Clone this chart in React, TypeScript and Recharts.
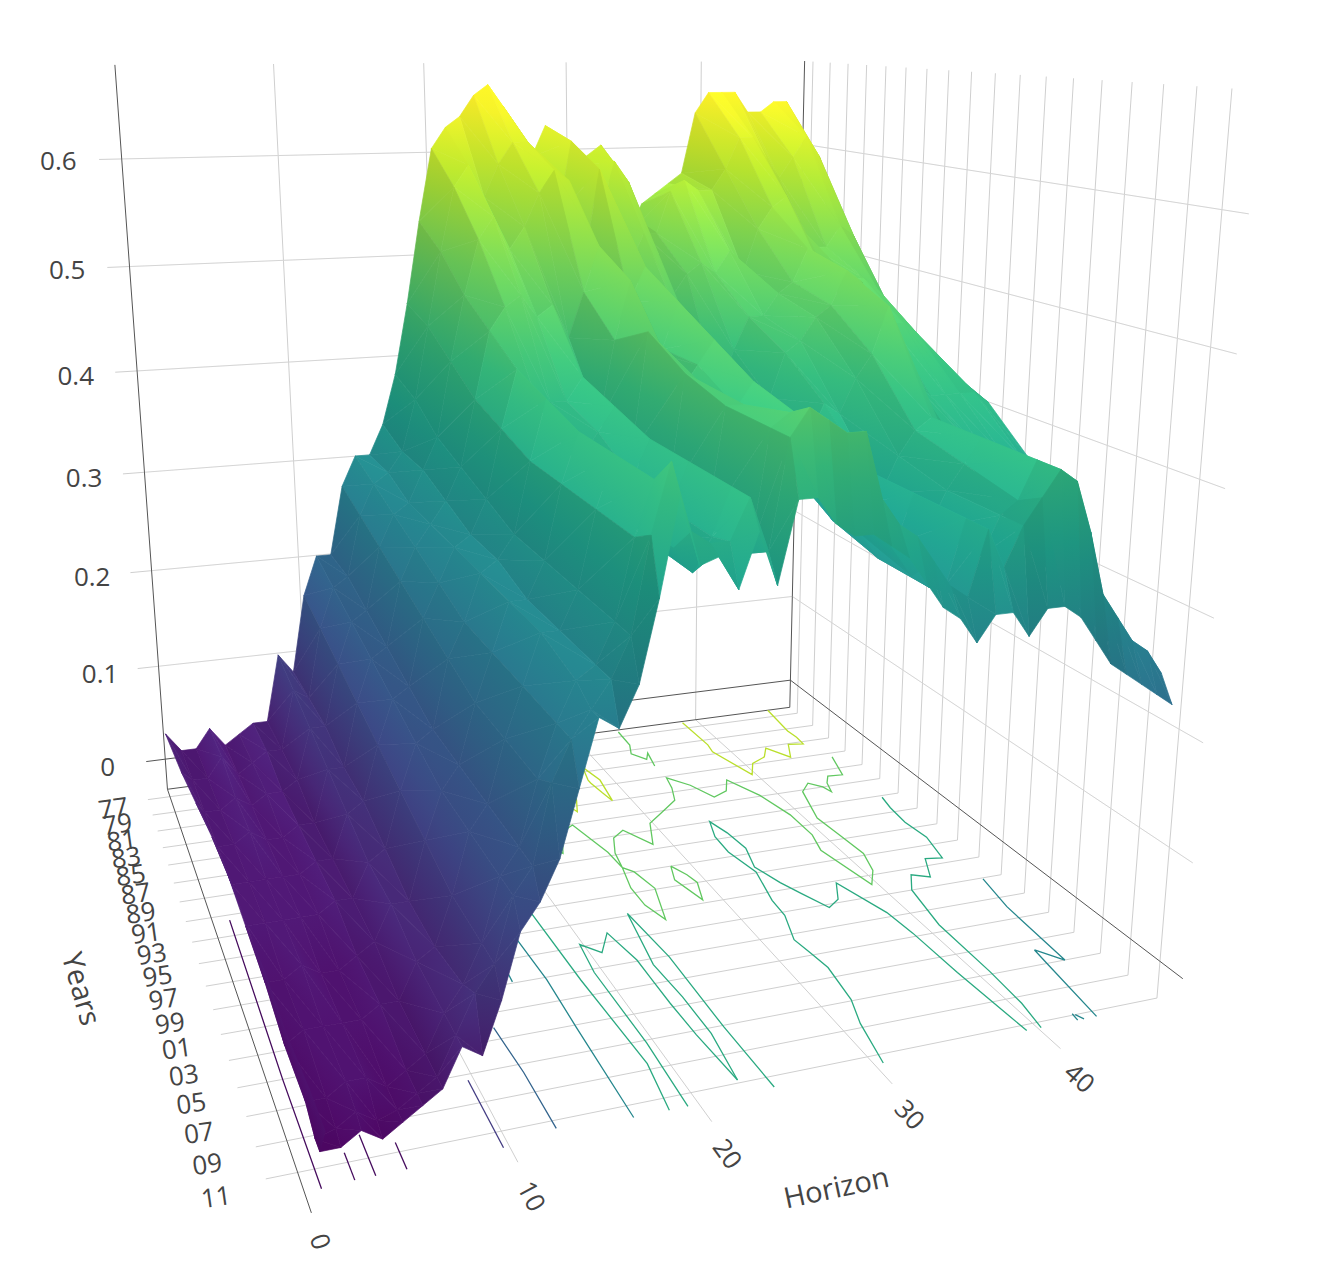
import React from 'react';
import { ComposedChart, Line, Scatter, XAxis, YAxis } from 'recharts';

const W = 1318, H = 1273;
const zMin = -0.028, zTop = 0.69, cMin = -0.02, cMax = 0.67;

// horizons run 0..47, year slices are counted in years since 1977
const horizons = Array.from({ length: 48 }, (_, i) => i);
const sliceYears = [0, 4, 8, 12, 16, 20, 24, 28, 32, 33.6, 34.4];
// the left edge of the surface starts a little later in the recent slices
const firstHorizon = [0, .3, .5, .7, .8, .9, 1, 1.1, 1.2, 1.3, 1.3];
const z1977 = [.04,.02,.02,.04,.02,.03,.04,.04,.11,.09,.17,.21,.21,.28,.31,.31,.34,.39,.46,.54,.61,.63,.64,.66,.67,.65,.62,.60,.63,.61,.59,.60,.61,.55,.52,.55,.56,.57,.58,.64,.66,.66,.66,.64,.64,.65,.65,.62];
const z1981 = [.03,.02,.02,.04,.02,.03,.04,.04,.10,.09,.16,.20,.21,.27,.30,.31,.33,.38,.45,.52,.58,.60,.57,.60,.62,.62,.60,.55,.62,.60,.55,.60,.58,.53,.53,.57,.58,.57,.57,.59,.62,.62,.60,.58,.60,.62,.60,.54];
const z1985 = [.03,.02,.02,.03,.02,.03,.03,.04,.09,.09,.15,.19,.20,.26,.29,.30,.33,.36,.43,.49,.54,.56,.53,.55,.58,.60,.59,.52,.60,.57,.51,.54,.52,.48,.50,.51,.50,.52,.50,.54,.56,.57,.54,.52,.52,.54,.53,.48];
const z1989 = [.03,.02,.02,.03,.02,.02,.03,.03,.08,.08,.14,.18,.19,.25,.28,.30,.32,.35,.41,.47,.49,.50,.48,.49,.46,.50,.54,.48,.49,.52,.47,.48,.46,.42,.40,.44,.47,.47,.49,.50,.53,.51,.49,.50,.50,.49,.47,.44];
const z1993 = [.03,.02,.02,.02,.02,.02,.03,.03,.07,.08,.13,.17,.18,.24,.27,.30,.31,.34,.40,.45,.43,.42,.42,.44,.40,.47,.52,.46,.46,.50,.45,.44,.42,.40,.38,.41,.45,.46,.48,.49,.52,.51,.48,.47,.47,.46,.44,.41];
const z1997 = [.02,.02,.02,.02,.02,.02,.03,.03,.06,.07,.12,.16,.17,.23,.26,.30,.31,.33,.39,.44,.40,.39,.41,.43,.39,.49,.47,.44,.46,.48,.43,.42,.40,.38,.37,.39,.42,.41,.44,.46,.50,.45,.43,.42,.42,.42,.42,.41];
const z2001 = [.02,.01,.01,.02,.01,.01,.02,.03,.06,.06,.11,.15,.17,.22,.26,.30,.30,.33,.39,.43,.39,.37,.39,.42,.37,.47,.46,.44,.44,.46,.42,.40,.38,.36,.34,.35,.38,.36,.39,.41,.42,.40,.39,.39,.38,.38,.38,.37];
const z2005 = [.01,.00,.01,.01,.01,.01,.02,.02,.05,.06,.10,.15,.17,.22,.26,.30,.30,.33,.39,.43,.38,.36,.385,.42,.37,.46,.46,.44,.44,.45,.41,.40,.37,.35,.33,.34,.38,.35,.38,.40,.42,.39,.36,.33,.32,.30,.30,.29];
const z2009 = [.01,.00,.00,.01,.01,.00,.01,.02,.05,.07,.10,.15,.17,.22,.26,.29,.30,.33,.39,.43,.38,.36,.385,.42,.37,.46,.47,.45,.45,.45,.40,.38,.36,.34,.33,.33,.38,.35,.38,.39,.42,.39,.34,.31,.29,.27,.27,.26];
const z2011 = [.005,-.01,-.005,.005,-.005,.00,.01,.02,.05,.08,.10,.15,.17,.23,.26,.28,.30,.33,.40,.45,.40,.39,.39,.42,.38,.46,.48,.47,.46,.46,.41,.39,.38,.36,.34,.33,.38,.35,.38,.40,.42,.41,.37,.32,.30,.28,.27,.25];
const z2012 = [.005,-.01,-.01,.00,-.01,.00,.01,.02,.05,.04,.08,.13,.15,.18,.23,.28,.27,.30,.36,.43,.38,.385,.36,.40,.36,.42,.42,.40,.39,.39,.38,.37,.35,.33,.32,.30,.32,.32,.30,.32,.32,.31,.29,.27,.26,.25,.24,.23];
const surface = [z1977, z1981, z1985, z1989, z1993, z1997, z2001, z2005, z2009, z2011, z2012];

// floor contours, [horizon, years since 1977]
const level60 = [
  [[38.8,-.8],[38.9,2.7],[38.7,3.7],[39.7,7.3],[40.6,5.9],[41.9,5.3],[42.7,4.2],[43.7,5.8],[44.6,4.1],[45.7,4.3],[45.8,3.3],[45.7,2.3],[46.1,-1]],
  [[28.7,3.4],[28.3,5.1],[28.3,5.5],[28.5,6.9],[28.7,8],[29.1,5.3],[28.7,3.4]],
  [[25.5,7.7],[25.8,8.7],[26.4,7.3],[26.6,6.3]],
];
const level50 = [
  [[33.5,-.7],[33.4,1.3],[32.9,2.5],[33.6,3.5],[34.1,2.7],[33.7,4.5]],
  [[22.5,12.5],[22.8,13],[23.8,10.7],[24.8,10.1],[25.6,13.6],[25.7,15.4],[26.2,16],[26.6,17.9],[25.7,20.9],[25.2,19.3],[25.2,17.5],[25.7,15.4],[26,13.8],[26.7,12.2],[27.7,11.5],[28.8,13.5],[29.8,11.2],[30.9,10.4],[32.8,9],[33.4,7.5],[33.7,6.2],[34.8,7.5],[35.6,9.3],[36.8,8.8],[37.6,7.5],[38.7,9.9],[39.3,12.6],[39.3,15.1],[38.8,16.8],[39.6,20.9],[40.6,19.6],[41.2,17.8],[41,15.6],[40.8,13.4],[41.8,10.2],[42.8,9.3],[43.5,10],[43.7,10.7],[44.1,9.6],[44.7,8.8],[45.8,8.9],[46.6,6.5]],
  [[28.7,16],[28.2,17.4],[28.8,19.7],[29.4,18],[29.2,17.1],[28.7,16]],
];
const level40 = [
  [[30.5,34.6],[31.2,31.7],[31.9,29.9],[32.3,27.2],[32.1,25.8],[31.9,24.5],[32.7,22.3],[32.8,20.8],[33.5,17.9],[33,15.5],[33.1,13.7],[33.7,12],[34.1,13.5],[34.3,15.4],[33.7,17.4],[34.3,19.3],[34.9,20.6],[35.7,22.3],[36.7,21.7],[37.6,20.2],[38.7,23.6],[38.9,25.7],[39,29.4],[39.3,34.4]],
  [[46.6,12.2],[46.3,13.5],[46.1,15.3],[46.3,17.2],[45.7,19.5],[44.6,19.3],[43.6,21.1],[42.6,20.6],[41.6,22],[40.9,25.4],[40.8,29.8],[40.6,32.5],[40.2,34.4]],
  [[19.4,34.8],[19.6,30.2],[19.5,24.3],[19.8,21.8],[20.7,22.8],[21.8,21.2],[22.3,23.9],[22.3,25.7],[22.3,27.7],[22.4,30.3],[22.7,33.8]],
  [[22.7,33.8],[23.2,30.4],[23.2,27.4],[23,24.5],[23.8,19.8],[24.2,24.1],[24.1,30.1],[24.2,34.7]],
  [[18.3,17.3],[18.5,24.7],[18.9,31.6],[18.4,34.8]],
];
const level30 = [
  [[16.5,20],[16.7,24.2],[16.6,28.2],[16.5,34.8]],
  [[14.9,22.4],[14.8,23.9]],
  [[46.6,22.1],[46,24.9],[45.6,30],[44.6,28.8],[44.4,30],[43.7,34.4]],
  [[42.7,34],[42.9,34.4]],
  [[42.6,33.9],[42.5,34.4]],
];
const level20 = [[[12.4,27.1],[12.6,30.6],[12.6,34.5]]];
const level10 = [[[9.7,30.4],[9.7,35]]];
const level00 = [
  [[1,14.5],[.8,28],[.8,35.2]],
  [[2.4,33.4],[2.4,35.1]],
  [[3.4,32.5],[3.4,35.1]],
  [[4.9,33.4],[4.9,35.1]],
];
const contourLevels: [number, number[][][]][] = [[0, level00], [.1, level10], [.2, level20], [.3, level30], [.4, level40], [.5, level50], [.6, level60]];

const horizonTicks = [0, 10, 20, 30, 40];
const zTicks = [0, .1, .2, .3, .4, .5, .6];
const yearLabels = ['77','79','81','83','85','87','89','91','93','95','97','99','01','03','05','07','09','11'];

// camera fitted to the box corners of the picture
const cam = [15.1642, 0.945752, -1.80978, 168.127, 0.0833251, -0.0279276, -20.6329, 770.958, 0.00256363, -0.00948749, -0.00283351];
const project = (h: number, t: number, z: number) => {
  const Z = z * 50, d = cam[8] * h + cam[9] * t + cam[10] * Z + 1;
  return { px: (cam[0] * h + cam[1] * t + cam[2] * Z + cam[3]) / d, py: (cam[4] * h + cam[5] * t + cam[6] * Z + cam[7]) / d };
};

const viridis = [[68,1,84],[72,40,120],[62,74,137],[49,104,142],[38,130,142],[31,158,137],[53,183,121],[109,205,89],[180,222,44],[253,231,37]];
const viridisRgb = (z: number, shade = 1) => {
  const v = Math.max(0, Math.min(1, (z - cMin) / (cMax - cMin))) * (viridis.length - 1);
  const i = Math.min(viridis.length - 2, Math.floor(v)), f = v - i;
  const c = viridis[i].map((a, k) => Math.min(255, Math.round((a + (viridis[i + 1][k] - a) * f) * shade)));
  return `rgb(${c[0]},${c[1]},${c[2]})`;
};

// light comes from above: flat parts and crests are brighter than steep parts and valleys
const vertexShade = surface.map((row, r) => row.map((z, c) => {
  const c0 = Math.max(0, c - 1), c1 = Math.min(row.length - 1, c + 1);
  const r0 = Math.max(0, r - 1), r1 = Math.min(surface.length - 1, r + 1);
  const a = (row[c1] - row[c0]) / (horizons[c1] - horizons[c0]) * 48 / 0.7;
  const b = (surface[r1][c] - surface[r0][c]) / (sliceYears[r1] - sliceYears[r0]) * 36 / 0.7;
  const crest = 2 * z - row[c0] - row[c1];
  return Math.max(0.72, Math.min(1.2, 0.82 + 0.34 / Math.sqrt(1 + a * a + b * b) + crest * 1.3));
}));

type V = { h: number; t: number; z: number };
const makeTri = (a: V, b: V, c: V, shade: number, id: number) => {
  const pa = project(a.h, a.t, a.z), pb = project(b.h, b.t, b.z), pc = project(c.h, c.t, c.z);
  const e1x = pb.px - pa.px, e1y = pb.py - pa.py, e2x = pc.px - pa.px, e2y = pc.py - pa.py;
  const det = e1x * e2y - e1y * e2x, dz1 = b.z - a.z, dz2 = c.z - a.z;
  const gx = det ? (dz1 * e2y - dz2 * e1y) / det : 0, gy = det ? (dz2 * e1x - dz1 * e2x) / det : 0;
  const g2 = gx * gx + gy * gy;
  const lo = Math.min(a.z, b.z, c.z), hi = Math.max(a.z, b.z, c.z);
  return {
    px: pa.px, py: pa.py, id, shade, lo, hi,
    dx1: e1x, dy1: e1y, dx2: e2x, dy2: e2y,
    g: g2 > 1e-12 ? [gx * (lo - a.z) / g2, gy * (lo - a.z) / g2, gx * (hi - a.z) / g2, gy * (hi - a.z) / g2] : null,
  };
};
const triangles: any[] = [];
for (let r = 0; r < sliceYears.length - 1; r++) {
  for (let c = horizons.length - 2; c >= 0; c--) {
    const v = (rr: number, cc: number): V => ({ h: cc === 0 ? firstHorizon[rr] : horizons[cc], t: sliceYears[rr], z: surface[rr][cc] });
    const s = (vertexShade[r][c] + vertexShade[r][c + 1] + vertexShade[r + 1][c] + vertexShade[r + 1][c + 1]) / 4;
    triangles.push(makeTri(v(r, c), v(r, c + 1), v(r + 1, c + 1), s, triangles.length));
    triangles.push(makeTri(v(r, c), v(r + 1, c + 1), v(r + 1, c), s, triangles.length));
  }
}

const TriShape = (p: any) => {
  const d = p.payload, x = p.cx, y = p.cy;
  if (x == null || y == null) return null;
  const pts = `${x},${y} ${x + d.dx1},${y + d.dy1} ${x + d.dx2},${y + d.dy2}`;
  if (!d.g) {
    const col = viridisRgb(d.lo, d.shade);
    return <polygon points={pts} fill={col} stroke={col} strokeWidth={0.7} />;
  }
  const id = `tri${d.id}`, mid = (d.lo + d.hi) / 2;
  return (
    <g>
      <defs>
        <linearGradient id={id} gradientUnits="userSpaceOnUse" x1={x + d.g[0]} y1={y + d.g[1]} x2={x + d.g[2]} y2={y + d.g[3]}>
          <stop offset="0" stopColor={viridisRgb(d.lo, d.shade)} />
          <stop offset="0.5" stopColor={viridisRgb(mid, d.shade)} />
          <stop offset="1" stopColor={viridisRgb(d.hi, d.shade)} />
        </linearGradient>
      </defs>
      <polygon points={pts} fill={`url(#${id})`} stroke={`url(#${id})`} strokeWidth={0.7} />
    </g>
  );
};

const LabelShape = (p: any) => {
  const d = p.payload;
  return (
    <text x={p.cx} y={p.cy} textAnchor="middle" dominantBaseline="central" fontFamily="'Open Sans'" fontSize={d.size} fill="#444"
      transform={`rotate(${d.angle} ${p.cx} ${p.cy})`}>{d.text}</text>
  );
};

const grey = '#cfcfcf', dark = '#555', zNudge = 0.005;
const backLines: { pts: any[]; c: string }[] = [];
for (const h of [10, 20, 30, 40]) backLines.push({ pts: [project(h, -1, zTop), project(h, -1, zMin), project(h, 36, zMin)], c: grey });
for (const z of zTicks.slice(1)) backLines.push({ pts: [project(-1.4, -1, z + zNudge), project(48, -1, z + zNudge), project(48, 35.5, z + zNudge)], c: grey });
yearLabels.forEach((_, i) => backLines.push({ pts: [project(-1.5, i * 2, zMin), project(48, i * 2, zMin), project(48, i * 2, zTop)], c: grey }));
backLines.push({ pts: [project(0, -1, zTop), project(0, -1, zMin), project(48, -1, zMin), project(48, -1, zTop)], c: dark });
backLines.push({ pts: [project(0, -1, zMin), project(0, 36.4, zMin)], c: dark });
backLines.push({ pts: [project(-1.3, -1, zNudge), project(48, -1, zNudge), project(48, 35.5, zNudge)], c: dark });

const contourLines = contourLevels.flatMap(([lvl, segs]) => segs.map(s => ({ pts: s.map(([h, t]) => project(h, t, zMin)), c: viridisRgb(lvl) })));

// wall grid shows faintly through the surface
const overLines = zTicks.slice(1).map(z => [project(0, -1, z + zNudge), project(48, -1, z + zNudge), project(48, 35.5, z + zNudge)]);

const rad = 180 / Math.PI;
const labels = [
  ...zTicks.map(z => ({ ...project(-3.9, -1, z + zNudge), text: String(z), size: 26, angle: 0 })),
  ...yearLabels.map((y, i) => ({ ...project(-3.9, i * 2 + .4, zMin), text: y, size: 26, angle: -8 })),
  ...horizonTicks.map(h => {
    const a = project(h, 36, zMin), b = project(h, 38, zMin);
    return { ...project(h * .985, 38, zMin), text: String(h), size: 26, angle: Math.atan2(b.py - a.py, b.px - a.px) * rad };
  }),
  { ...project(-8, 18.5, zMin), text: 'Years', size: 29, angle: 74 },
  { ...project(23.4, 41, zMin), text: 'Horizon', size: 29, angle: -12 },
];

export default function App() {
  return (
    <div style={{ position: 'absolute', left: 0, top: 0, width: W, height: H }}>
      <ComposedChart width={W} height={H} margin={{ top: 0, right: 0, bottom: 0, left: 0 }}>
        <XAxis type="number" dataKey="px" domain={[0, W]} hide allowDataOverflow />
        <YAxis type="number" dataKey="py" domain={[0, H]} reversed hide allowDataOverflow />
        {backLines.map((l, i) => <Line key={`b${i}`} data={l.pts} dataKey="py" stroke={l.c} strokeWidth={1} dot={false} activeDot={false} isAnimationActive={false} />)}
        {contourLines.map((l, i) => <Line key={`c${i}`} data={l.pts} dataKey="py" stroke={l.c} strokeWidth={1.3} dot={false} activeDot={false} isAnimationActive={false} />)}
        <Scatter data={triangles} shape={TriShape} isAnimationActive={false} />
        {overLines.map((pts, i) => <Line key={`o${i}`} data={pts} dataKey="py" stroke="#fff" strokeOpacity={0.14} strokeWidth={1} dot={false} activeDot={false} isAnimationActive={false} />)}
        <Scatter data={labels} shape={LabelShape} isAnimationActive={false} />
      </ComposedChart>
    </div>
  );
}
